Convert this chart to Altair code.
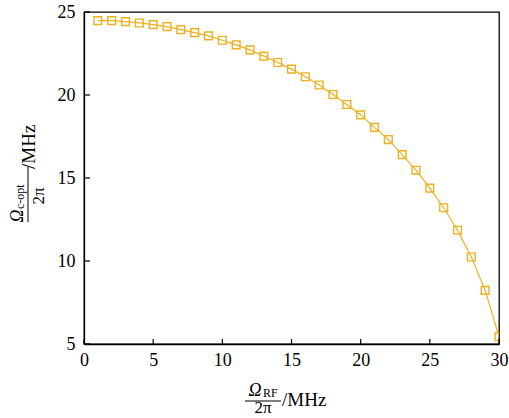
import altair as alt
import pandas as pd

x_vals = list(range(1, 31))
y_vals = [24.48, 24.48, 24.42, 24.34, 24.24, 24.12, 23.94, 23.76, 23.56, 23.30,
          23.02, 22.72, 22.34, 21.96, 21.56, 21.10, 20.60, 20.03, 19.43, 18.80,
          18.05, 17.31, 16.41, 15.47, 14.39, 13.21, 11.85, 10.24, 8.23, 5.44]
x_ticks = [0, 5, 10, 15, 20, 25, 30]
y_ticks = [5, 10, 15, 20, 25]

COLOR = "#EDB120"
FONT = "Liberation Serif"
W, H = 415, 332

df = pd.DataFrame({"x": x_vals, "y": y_vals})
xs = alt.Scale(domain=[0, 30], nice=False)
ys = alt.Scale(domain=[5, 25], nice=False)

base = alt.Chart(df)
line = base.mark_line(color=COLOR, strokeWidth=1.2, clip=True).encode(
    x=alt.X("x:Q", scale=xs, axis=alt.Axis(values=x_ticks, title=None, ticks=False,
                                           labelPadding=7, labelFontSize=18, labelFont=FONT,
                                           labelColor="black", domainColor="black", domainWidth=1.3, grid=False)),
    y=alt.Y("y:Q", scale=ys, axis=alt.Axis(values=y_ticks, title=None, ticks=False,
                                           labelPadding=9, labelFontSize=18, labelFont=FONT,
                                           labelColor="black", domainColor="black", domainWidth=1.3, grid=False)),
)
pts = base.mark_point(shape="square", size=60, color=COLOR, filled=False, strokeWidth=1.4,
                      opacity=1, clip=True).encode(x=alt.X("x:Q", scale=xs), y=alt.Y("y:Q", scale=ys))

xt = alt.Chart(pd.DataFrame({"v": x_ticks})).mark_rule(color="black", strokeWidth=1.2).encode(
    x=alt.X("v:Q", scale=xs), y=alt.value(H), y2=alt.value(H - 5))
yt = alt.Chart(pd.DataFrame({"v": y_ticks})).mark_rule(color="black", strokeWidth=1.2).encode(
    y=alt.Y("v:Q", scale=ys), x=alt.value(0), x2=alt.value(6))


def txt(s, x, y, size=18, italic=False, align="center", angle=0, baseline="alphabetic"):
    kw = dict(font=FONT, fontSize=size, color="black", align=align, baseline=baseline)
    if italic:
        kw["fontStyle"] = "italic"
    if angle:
        kw["angle"] = angle
    return alt.Chart(pd.DataFrame({"t": [s]})).mark_text(**kw).encode(
        text="t:N", x=alt.value(x), y=alt.value(y))


def bar(x1, x2, y1, y2):
    return alt.Chart(pd.DataFrame({"t": [0]})).mark_rule(color="black", strokeWidth=1).encode(
        x=alt.value(x1), x2=alt.value(x2), y=alt.value(y1), y2=alt.value(y2))


# x-axis title: (Ω_RF / 2π) / MHz
xtitle = [
    txt("Ω", 171, 384, italic=True),
    txt("RF", 179, 385, size=12, align="left"),
    bar(161, 197, 389, 389),
    txt("2π", 179, 401, size=17),
    txt("/MHz", 198, 394, size=19, align="left"),
]
# y-axis title rotated
ytitle = [
    txt("Ω", -61, 204, italic=True, angle=270),
    txt("c-opt", -60, 197, size=12, align="left", angle=270),
    bar(-56, -56, 155, 210),
    txt("2π", -40, 184, size=17, angle=270),
    txt("/MHz", -49, 157, size=19, align="left", angle=270),
]

chart = alt.layer(line, pts, xt, yt, *xtitle, *ytitle).properties(
    width=W, height=H,
    padding={"left": 84, "top": 12, "right": 10, "bottom": 74},
    autosize=alt.AutoSizeParams(type="none"),
).configure_view(stroke="black", strokeWidth=1.3).configure_axis(labelFlush=False)

chart.save("out.html", embed_options={"renderer": "svg", "actions": False})
